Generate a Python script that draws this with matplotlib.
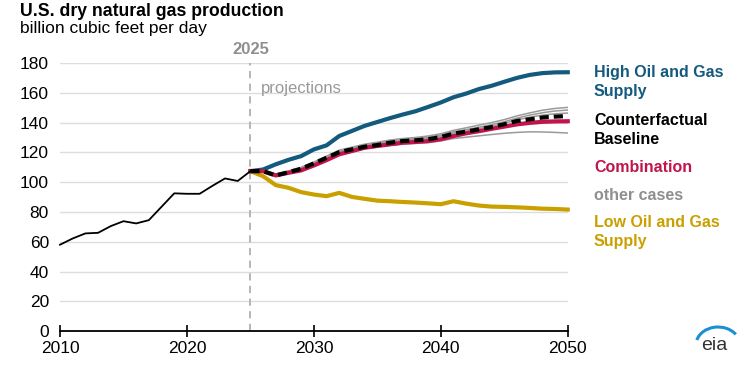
import matplotlib.pyplot as plt
import numpy as np
from matplotlib.patches import Arc

plt.rcParams['font.family'] = ['Liberation Sans', 'DejaVu Sans']

# historical and projected dry gas production, billion cubic feet per day
hist_years = np.arange(2010, 2026)
hist = [58, 62.2, 65.6, 66, 70.5, 73.8, 72.3, 74.5, 83.5, 92.5, 92.2, 92.2,
        97.5, 102.5, 100.8, 107.4]

proj_years = np.arange(2025, 2051)
high_supply = [107.4, 108.5, 112, 115, 117.5, 122, 124.7, 131, 134.4, 137.8,
               140.4, 143, 145.4, 147.6, 150.5, 153.5, 157, 159.5, 162.5, 164.7,
               167.4, 170, 172, 173.2, 173.7, 173.8]
low_supply = [107.4, 104, 98, 96.2, 93.3, 91.7, 90.6, 92.8, 90.1, 88.8,
              87.6, 87.2, 86.7, 86.3, 85.8, 85.2, 87.2, 85.6, 84.3, 83.6,
              83.4, 83.1, 82.7, 82.2, 82, 81.6]
combination = [107.4, 107.4, 104.5, 106.3, 107.9, 111.2, 114.8, 118.7, 120.9, 123.1,
               124.3, 125.4, 126.5, 127, 127.6, 128.8, 131, 132.8, 134.2, 135.8,
               137.3, 138.8, 139.8, 140.5, 140.8, 140.9]
baseline = [107.4, 107.4, 104.5, 106.7, 109, 112.6, 116.4, 120.2, 122, 123.8,
            124.9, 126.5, 127.6, 128.1, 128.8, 130.3, 132.6, 133.9, 135.5, 137,
            138.9, 141.1, 142.2, 143.4, 144, 144.4]
other_cases = [
    [107.4, 107.6, 105.5, 107.5, 110, 113.5, 117.5, 121.5, 123.5, 125.5,
     126.8, 128.3, 129.3, 130, 131, 132.5, 134.8, 136.5, 138.3, 140,
     142, 144.5, 146.5, 148.3, 149.5, 150.2],
    [107.4, 107.5, 105, 107.2, 109.6, 113, 117, 121, 123, 125,
     126.2, 127.6, 128.7, 129.3, 130.2, 131.6, 133.8, 135.3, 136.9, 138.6,
     140.6, 143, 145, 146.6, 147.8, 148.4],
    [107.4, 107.4, 104.8, 107, 109.3, 112.8, 116.7, 120.5, 122.4, 124.3,
     125.5, 127, 128.1, 128.7, 129.5, 130.9, 133, 134.4, 136, 137.5,
     139.5, 141.8, 143.6, 145, 145.9, 146.4],
    [107.4, 107.3, 104.3, 106.3, 108.5, 111.8, 115.5, 119, 120.8, 122.5,
     123.6, 124.7, 125.5, 126, 126.5, 127.7, 129.3, 130.2, 131.1, 132,
     132.8, 133.4, 133.8, 133.7, 133.4, 133],
]

blue = '#135a7e'
red = '#c0144b'
gold = '#c9a000'
grey = '#8f8f8f'

fig = plt.figure(figsize=(7.5, 3.75), dpi=100)
ax = fig.add_axes([0.08, 0.117, 0.677, 0.715])

for yy in range(20, 181, 20):
    ax.axhline(yy, color='#dddddd', lw=1, zorder=0)

ax.axvline(2025, color='#b0b0b0', lw=1.3, ls=(0, (4, 3)), zorder=1, clip_on=False)

for oc in other_cases:
    ax.plot(proj_years, oc, color='#9a9a9a', lw=1.1, zorder=2)
ax.plot(proj_years, high_supply, color=blue, lw=3, zorder=3, clip_on=False)
ax.plot(proj_years, low_supply, color=gold, lw=3, zorder=3, clip_on=False)
ax.plot(proj_years, combination, color=red, lw=3, zorder=4, clip_on=False)
ax.plot(proj_years, baseline, color='black', lw=3, ls=(0, (2.2, 1.2)), zorder=5,
        clip_on=False)
ax.plot(hist_years, hist, color='black', lw=1.3, zorder=5, clip_on=False)

ax.set_xlim(2010, 2050)
ax.set_ylim(0, 180)
ax.set_xticks([2010, 2020, 2030, 2040, 2050])
ax.set_yticks(range(0, 181, 20))
for s in ['top', 'right', 'left']:
    ax.spines[s].set_visible(False)
ax.spines['bottom'].set_linewidth(1.3)
ax.tick_params(axis='x', direction='inout', length=8, width=1.2, labelsize=12.5, pad=3)
ax.tick_params(axis='y', length=0, labelsize=12.5, pad=8)

ax.text(2025, 184, '2025', color=grey, fontsize=12, fontweight='bold',
        ha='center', va='bottom')
ax.text(2025.8, 163, 'projections', color='#999999', fontsize=12, va='center')

fig.text(20 / 750, 1 - 12 / 375, 'U.S. dry natural gas production', fontsize=12.7,
         fontweight='bold', va='center')
fig.text(20 / 750, 1 - 29 / 375, 'billion cubic feet per day', fontsize=12.5,
         va='center')

lx = 594 / 750
labels = [('High Oil and Gas\nSupply', blue, 82),
          ('Counterfactual\nBaseline', 'black', 130),
          ('Combination', red, 167),
          ('other cases', grey, 195),
          ('Low Oil and Gas\nSupply', gold, 232)]
for txt, col, py in labels:
    fig.text(lx, 1 - py / 375, txt, color=col, fontsize=11.5, fontweight='bold',
             va='center', linespacing=1.3)

# eia logo
fig.text(714 / 750, 1 - 346 / 375, 'eia', fontsize=14, color='#333333',
         ha='center', va='center')
arc = Arc((718 / 750, 1 - 345 / 375), 44 / 750, 36 / 375, theta1=50, theta2=155,
          color='#1a8fd6', lw=2.2, transform=fig.transFigure)
fig.add_artist(arc)

fig.savefig('out.png', dpi=100)
